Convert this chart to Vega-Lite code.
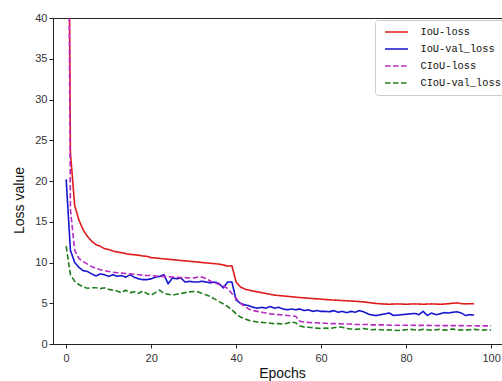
{
  "$schema": "https://vega.github.io/schema/vega-lite/v6.json",
  "width": 450,
  "height": 326,
  "autosize": {"type": "none"},
  "padding": {"left": 53, "top": 18, "right": 0, "bottom": 37},
  "background": "white",
  "config": {
    "view": {"stroke": "#222", "strokeWidth": 1},
    "font": "Liberation Sans",
    "axis": {
      "grid": false,
      "domainColor": "#222",
      "tickColor": "#222",
      "tickSize": 4,
      "labelFont": "Liberation Sans",
      "labelFontSize": 11,
      "labelColor": "#333",
      "titleFont": "Liberation Sans",
      "titleFontSize": 14,
      "titleFontWeight": "normal",
      "titleColor": "#111"
    }
  },
  "data": {
    "values": [
      {"epoch": 0, "IoU-loss": 110, "IoU-val_loss": 20.2, "CIoU-loss": 100, "CIoU-val_loss": 12.0},
      {"epoch": 1, "IoU-loss": 23.5, "IoU-val_loss": 11.5, "CIoU-loss": 16.5, "CIoU-val_loss": 8.5},
      {"epoch": 2, "IoU-loss": 17.0, "IoU-val_loss": 10.0, "CIoU-loss": 11.5, "CIoU-val_loss": 7.7},
      {"epoch": 3, "IoU-loss": 15.2, "IoU-val_loss": 9.4, "CIoU-loss": 10.5, "CIoU-val_loss": 7.3},
      {"epoch": 4, "IoU-loss": 14.0, "IoU-val_loss": 9.0, "CIoU-loss": 10.1, "CIoU-val_loss": 7.0},
      {"epoch": 5, "IoU-loss": 13.2, "IoU-val_loss": 8.9, "CIoU-loss": 9.8, "CIoU-val_loss": 6.85},
      {"epoch": 6, "IoU-loss": 12.6, "IoU-val_loss": 8.6, "CIoU-loss": 9.5, "CIoU-val_loss": 6.9},
      {"epoch": 7, "IoU-loss": 12.2, "IoU-val_loss": 8.35, "CIoU-loss": 9.3, "CIoU-val_loss": 6.9},
      {"epoch": 8, "IoU-loss": 12.0, "IoU-val_loss": 8.6, "CIoU-loss": 9.1, "CIoU-val_loss": 6.8},
      {"epoch": 9, "IoU-loss": 11.7, "IoU-val_loss": 8.5, "CIoU-loss": 9.0, "CIoU-val_loss": 6.9},
      {"epoch": 10, "IoU-loss": 11.6, "IoU-val_loss": 8.3, "CIoU-loss": 8.9, "CIoU-val_loss": 6.7},
      {"epoch": 11, "IoU-loss": 11.4, "IoU-val_loss": 8.5, "CIoU-loss": 8.8, "CIoU-val_loss": 6.6},
      {"epoch": 12, "IoU-loss": 11.3, "IoU-val_loss": 8.3, "CIoU-loss": 8.75, "CIoU-val_loss": 6.5},
      {"epoch": 13, "IoU-loss": 11.2, "IoU-val_loss": 8.4, "CIoU-loss": 8.7, "CIoU-val_loss": 6.3},
      {"epoch": 14, "IoU-loss": 11.1, "IoU-val_loss": 8.2, "CIoU-loss": 8.65, "CIoU-val_loss": 6.6},
      {"epoch": 15, "IoU-loss": 11.0, "IoU-val_loss": 8.5, "CIoU-loss": 8.6, "CIoU-val_loss": 6.3},
      {"epoch": 16, "IoU-loss": 10.95, "IoU-val_loss": 8.2, "CIoU-loss": 8.55, "CIoU-val_loss": 6.4},
      {"epoch": 17, "IoU-loss": 10.9, "IoU-val_loss": 8.0, "CIoU-loss": 8.5, "CIoU-val_loss": 6.2},
      {"epoch": 18, "IoU-loss": 10.8, "IoU-val_loss": 7.9, "CIoU-loss": 8.45, "CIoU-val_loss": 6.5},
      {"epoch": 19, "IoU-loss": 10.75, "IoU-val_loss": 7.9, "CIoU-loss": 8.4, "CIoU-val_loss": 6.2},
      {"epoch": 20, "IoU-loss": 10.6, "IoU-val_loss": 8.0, "CIoU-loss": 8.4, "CIoU-val_loss": 6.0},
      {"epoch": 21, "IoU-loss": 10.55, "IoU-val_loss": 8.2, "CIoU-loss": 8.35, "CIoU-val_loss": 6.3},
      {"epoch": 22, "IoU-loss": 10.5, "IoU-val_loss": 8.3, "CIoU-loss": 8.3, "CIoU-val_loss": 6.6},
      {"epoch": 23, "IoU-loss": 10.45, "IoU-val_loss": 8.5, "CIoU-loss": 8.3, "CIoU-val_loss": 6.2},
      {"epoch": 24, "IoU-loss": 10.4, "IoU-val_loss": 7.4, "CIoU-loss": 8.25, "CIoU-val_loss": 6.1},
      {"epoch": 25, "IoU-loss": 10.35, "IoU-val_loss": 8.1, "CIoU-loss": 8.2, "CIoU-val_loss": 6.0},
      {"epoch": 26, "IoU-loss": 10.3, "IoU-val_loss": 8.0, "CIoU-loss": 8.2, "CIoU-val_loss": 6.1},
      {"epoch": 27, "IoU-loss": 10.25, "IoU-val_loss": 8.1, "CIoU-loss": 8.15, "CIoU-val_loss": 6.2},
      {"epoch": 28, "IoU-loss": 10.2, "IoU-val_loss": 7.6, "CIoU-loss": 8.15, "CIoU-val_loss": 6.3},
      {"epoch": 29, "IoU-loss": 10.15, "IoU-val_loss": 7.7, "CIoU-loss": 8.1, "CIoU-val_loss": 6.4},
      {"epoch": 30, "IoU-loss": 10.1, "IoU-val_loss": 7.6, "CIoU-loss": 8.1, "CIoU-val_loss": 6.45},
      {"epoch": 31, "IoU-loss": 10.05, "IoU-val_loss": 7.6, "CIoU-loss": 8.2, "CIoU-val_loss": 6.4},
      {"epoch": 32, "IoU-loss": 10.0, "IoU-val_loss": 7.7, "CIoU-loss": 8.2, "CIoU-val_loss": 6.2},
      {"epoch": 33, "IoU-loss": 9.95, "IoU-val_loss": 7.6, "CIoU-loss": 8.0, "CIoU-val_loss": 6.0},
      {"epoch": 34, "IoU-loss": 9.9, "IoU-val_loss": 7.5, "CIoU-loss": 7.7, "CIoU-val_loss": 5.8},
      {"epoch": 35, "IoU-loss": 9.85, "IoU-val_loss": 7.6, "CIoU-loss": 7.5, "CIoU-val_loss": 5.5},
      {"epoch": 36, "IoU-loss": 9.8, "IoU-val_loss": 7.4, "CIoU-loss": 7.3, "CIoU-val_loss": 5.2},
      {"epoch": 37, "IoU-loss": 9.7, "IoU-val_loss": 6.9, "CIoU-loss": 7.1, "CIoU-val_loss": 4.9},
      {"epoch": 38, "IoU-loss": 9.55, "IoU-val_loss": 7.6, "CIoU-loss": 6.8, "CIoU-val_loss": 4.6},
      {"epoch": 39, "IoU-loss": 9.6, "IoU-val_loss": 7.6, "CIoU-loss": 6.2, "CIoU-val_loss": 4.2},
      {"epoch": 40, "IoU-loss": 7.6, "IoU-val_loss": 5.4, "CIoU-loss": 5.6, "CIoU-val_loss": 3.7},
      {"epoch": 41, "IoU-loss": 7.0, "IoU-val_loss": 5.0, "CIoU-loss": 5.0, "CIoU-val_loss": 3.3},
      {"epoch": 42, "IoU-loss": 6.75, "IoU-val_loss": 4.8, "CIoU-loss": 4.6, "CIoU-val_loss": 3.1},
      {"epoch": 43, "IoU-loss": 6.6, "IoU-val_loss": 4.7, "CIoU-loss": 4.3, "CIoU-val_loss": 2.9},
      {"epoch": 44, "IoU-loss": 6.5, "IoU-val_loss": 4.5, "CIoU-loss": 4.1, "CIoU-val_loss": 2.8},
      {"epoch": 45, "IoU-loss": 6.4, "IoU-val_loss": 4.4, "CIoU-loss": 4.0, "CIoU-val_loss": 2.7},
      {"epoch": 46, "IoU-loss": 6.3, "IoU-val_loss": 4.5, "CIoU-loss": 3.9, "CIoU-val_loss": 2.65},
      {"epoch": 47, "IoU-loss": 6.2, "IoU-val_loss": 4.4, "CIoU-loss": 3.8, "CIoU-val_loss": 2.6},
      {"epoch": 48, "IoU-loss": 6.1, "IoU-val_loss": 4.6, "CIoU-loss": 3.7, "CIoU-val_loss": 2.55},
      {"epoch": 49, "IoU-loss": 6.0, "IoU-val_loss": 4.4, "CIoU-loss": 3.65, "CIoU-val_loss": 2.5},
      {"epoch": 50, "IoU-loss": 5.95, "IoU-val_loss": 4.5, "CIoU-loss": 3.6, "CIoU-val_loss": 2.5},
      {"epoch": 51, "IoU-loss": 5.9, "IoU-val_loss": 4.3, "CIoU-loss": 3.55, "CIoU-val_loss": 2.45},
      {"epoch": 52, "IoU-loss": 5.85, "IoU-val_loss": 4.2, "CIoU-loss": 3.5, "CIoU-val_loss": 2.55},
      {"epoch": 53, "IoU-loss": 5.8, "IoU-val_loss": 4.3, "CIoU-loss": 3.45, "CIoU-val_loss": 2.7},
      {"epoch": 54, "IoU-loss": 5.75, "IoU-val_loss": 4.2, "CIoU-loss": 3.4, "CIoU-val_loss": 2.6},
      {"epoch": 55, "IoU-loss": 5.7, "IoU-val_loss": 4.3, "CIoU-loss": 2.8, "CIoU-val_loss": 2.2},
      {"epoch": 56, "IoU-loss": 5.66, "IoU-val_loss": 4.1, "CIoU-loss": 2.7, "CIoU-val_loss": 2.1},
      {"epoch": 57, "IoU-loss": 5.62, "IoU-val_loss": 4.2, "CIoU-loss": 2.65, "CIoU-val_loss": 2.05},
      {"epoch": 58, "IoU-loss": 5.58, "IoU-val_loss": 4.0, "CIoU-loss": 2.6, "CIoU-val_loss": 2.0},
      {"epoch": 59, "IoU-loss": 5.54, "IoU-val_loss": 4.1, "CIoU-loss": 2.6, "CIoU-val_loss": 1.95},
      {"epoch": 60, "IoU-loss": 5.5, "IoU-val_loss": 4.0, "CIoU-loss": 2.55, "CIoU-val_loss": 1.9},
      {"epoch": 61, "IoU-loss": 5.46, "IoU-val_loss": 4.0, "CIoU-loss": 2.55, "CIoU-val_loss": 1.95},
      {"epoch": 62, "IoU-loss": 5.42, "IoU-val_loss": 3.96, "CIoU-loss": 2.5, "CIoU-val_loss": 1.9},
      {"epoch": 63, "IoU-loss": 5.39, "IoU-val_loss": 4.1, "CIoU-loss": 2.5, "CIoU-val_loss": 2.0},
      {"epoch": 64, "IoU-loss": 5.36, "IoU-val_loss": 3.9, "CIoU-loss": 2.5, "CIoU-val_loss": 2.1},
      {"epoch": 65, "IoU-loss": 5.33, "IoU-val_loss": 4.0, "CIoU-loss": 2.45, "CIoU-val_loss": 2.05},
      {"epoch": 66, "IoU-loss": 5.3, "IoU-val_loss": 3.85, "CIoU-loss": 2.45, "CIoU-val_loss": 1.9},
      {"epoch": 67, "IoU-loss": 5.27, "IoU-val_loss": 4.0, "CIoU-loss": 2.45, "CIoU-val_loss": 1.85},
      {"epoch": 68, "IoU-loss": 5.24, "IoU-val_loss": 3.9, "CIoU-loss": 2.4, "CIoU-val_loss": 1.8},
      {"epoch": 69, "IoU-loss": 5.2, "IoU-val_loss": 4.1, "CIoU-loss": 2.4, "CIoU-val_loss": 1.85},
      {"epoch": 70, "IoU-loss": 5.17, "IoU-val_loss": 3.95, "CIoU-loss": 2.4, "CIoU-val_loss": 1.9},
      {"epoch": 71, "IoU-loss": 5.1, "IoU-val_loss": 3.7, "CIoU-loss": 2.4, "CIoU-val_loss": 1.8},
      {"epoch": 72, "IoU-loss": 5.03, "IoU-val_loss": 3.55, "CIoU-loss": 2.35, "CIoU-val_loss": 1.75},
      {"epoch": 73, "IoU-loss": 4.97, "IoU-val_loss": 3.5, "CIoU-loss": 2.35, "CIoU-val_loss": 1.8},
      {"epoch": 74, "IoU-loss": 4.93, "IoU-val_loss": 3.6, "CIoU-loss": 2.35, "CIoU-val_loss": 1.75},
      {"epoch": 75, "IoU-loss": 4.9, "IoU-val_loss": 3.7, "CIoU-loss": 2.35, "CIoU-val_loss": 1.7},
      {"epoch": 76, "IoU-loss": 4.88, "IoU-val_loss": 3.8, "CIoU-loss": 2.3, "CIoU-val_loss": 1.75},
      {"epoch": 77, "IoU-loss": 4.9, "IoU-val_loss": 3.5, "CIoU-loss": 2.3, "CIoU-val_loss": 1.7},
      {"epoch": 78, "IoU-loss": 4.92, "IoU-val_loss": 3.55, "CIoU-loss": 2.3, "CIoU-val_loss": 1.65},
      {"epoch": 79, "IoU-loss": 4.9, "IoU-val_loss": 3.6, "CIoU-loss": 2.3, "CIoU-val_loss": 1.7},
      {"epoch": 80, "IoU-loss": 4.88, "IoU-val_loss": 3.65, "CIoU-loss": 2.3, "CIoU-val_loss": 1.75},
      {"epoch": 81, "IoU-loss": 4.9, "IoU-val_loss": 3.7, "CIoU-loss": 2.3, "CIoU-val_loss": 1.8},
      {"epoch": 82, "IoU-loss": 4.92, "IoU-val_loss": 3.75, "CIoU-loss": 2.28, "CIoU-val_loss": 1.75},
      {"epoch": 83, "IoU-loss": 4.9, "IoU-val_loss": 3.6, "CIoU-loss": 2.28, "CIoU-val_loss": 1.7},
      {"epoch": 84, "IoU-loss": 4.88, "IoU-val_loss": 4.0, "CIoU-loss": 2.28, "CIoU-val_loss": 1.8},
      {"epoch": 85, "IoU-loss": 4.9, "IoU-val_loss": 3.5, "CIoU-loss": 2.28, "CIoU-val_loss": 1.75},
      {"epoch": 86, "IoU-loss": 4.92, "IoU-val_loss": 3.8, "CIoU-loss": 2.27, "CIoU-val_loss": 1.7},
      {"epoch": 87, "IoU-loss": 4.9, "IoU-val_loss": 3.6, "CIoU-loss": 2.27, "CIoU-val_loss": 1.75},
      {"epoch": 88, "IoU-loss": 4.88, "IoU-val_loss": 3.7, "CIoU-loss": 2.26, "CIoU-val_loss": 1.8},
      {"epoch": 89, "IoU-loss": 4.9, "IoU-val_loss": 3.85, "CIoU-loss": 2.26, "CIoU-val_loss": 1.7},
      {"epoch": 90, "IoU-loss": 4.95, "IoU-val_loss": 3.8, "CIoU-loss": 2.26, "CIoU-val_loss": 1.75},
      {"epoch": 91, "IoU-loss": 5.0, "IoU-val_loss": 3.9, "CIoU-loss": 2.25, "CIoU-val_loss": 1.85},
      {"epoch": 92, "IoU-loss": 5.05, "IoU-val_loss": 3.95, "CIoU-loss": 2.25, "CIoU-val_loss": 1.7},
      {"epoch": 93, "IoU-loss": 4.95, "IoU-val_loss": 3.8, "CIoU-loss": 2.25, "CIoU-val_loss": 1.75},
      {"epoch": 94, "IoU-loss": 4.92, "IoU-val_loss": 3.5, "CIoU-loss": 2.24, "CIoU-val_loss": 1.7},
      {"epoch": 95, "IoU-loss": 4.95, "IoU-val_loss": 3.6, "CIoU-loss": 2.24, "CIoU-val_loss": 1.75},
      {"epoch": 96, "IoU-loss": 4.94, "IoU-val_loss": 3.55, "CIoU-loss": 2.24, "CIoU-val_loss": 1.8},
      {"epoch": 97, "CIoU-loss": 2.23, "CIoU-val_loss": 1.75},
      {"epoch": 98, "CIoU-loss": 2.23, "CIoU-val_loss": 1.7},
      {"epoch": 99, "CIoU-loss": 2.22, "CIoU-val_loss": 1.75},
      {"epoch": 100, "CIoU-loss": 2.22, "CIoU-val_loss": 1.72}
    ]
  },
  "transform": [
    {"fold": ["IoU-loss", "IoU-val_loss", "CIoU-loss", "CIoU-val_loss"], "as": ["series", "value"]},
    {"filter": "isValid(datum.value)"}
  ],
  "mark": {"type": "line", "clip": true, "strokeWidth": 1.6},
  "encoding": {
    "x": {
      "field": "epoch",
      "type": "quantitative",
      "scale": {"domain": [-3.1, 102.8], "nice": false, "zero": false},
      "axis": {
        "values": [0, 20, 40, 60, 80, 100],
        "title": "Epochs",
        "labelPadding": 4,
        "titleX": 229,
        "titleY": 33,
        "titleBaseline": "alphabetic"
      }
    },
    "y": {
      "field": "value",
      "type": "quantitative",
      "scale": {"domain": [0, 40], "nice": false},
      "axis": {
        "values": [0, 5, 10, 15, 20, 25, 30, 35, 40],
        "title": "Loss value",
        "labelPadding": 2,
        "titleX": -30,
        "titleY": 182,
        "titleBaseline": "alphabetic"
      }
    },
    "color": {
      "field": "series",
      "type": "nominal",
      "scale": {
        "domain": ["IoU-loss", "IoU-val_loss", "CIoU-loss", "CIoU-val_loss"],
        "range": ["#e01b1b", "#1515d0", "#b72bc4", "#1f7f1f"]
      },
      "legend": {
        "title": null,
        "orient": "none",
        "legendX": 322,
        "legendY": 2,
        "symbolType": "stroke",
        "symbolSize": 529,
        "symbolStrokeWidth": 1.6,
        "symbolOffset": 5.5,
        "labelOffset": 11.5,
        "labelFont": "Liberation Mono",
        "labelFontSize": 10.3,
        "labelColor": "#111",
        "clipHeight": 17,
        "rowPadding": 0,
        "padding": 3.5,
        "strokeColor": "#cccccc",
        "fillColor": "white",
        "cornerRadius": 3
      }
    },
    "strokeDash": {
      "field": "series",
      "type": "nominal",
      "scale": {
        "domain": ["IoU-loss", "IoU-val_loss", "CIoU-loss", "CIoU-val_loss"],
        "range": [[1, 0], [1, 0], [5.5, 2.5], [5.5, 2.5]]
      },
      "legend": {
        "title": null,
        "orient": "none",
        "legendX": 322,
        "legendY": 2,
        "symbolType": "stroke",
        "symbolSize": 529,
        "symbolStrokeWidth": 1.6,
        "symbolOffset": 5.5,
        "labelOffset": 11.5,
        "labelFont": "Liberation Mono",
        "labelFontSize": 10.3,
        "labelColor": "#111",
        "clipHeight": 17,
        "rowPadding": 0,
        "padding": 3.5,
        "strokeColor": "#cccccc",
        "fillColor": "white",
        "cornerRadius": 3
      }
    }
  }
}
